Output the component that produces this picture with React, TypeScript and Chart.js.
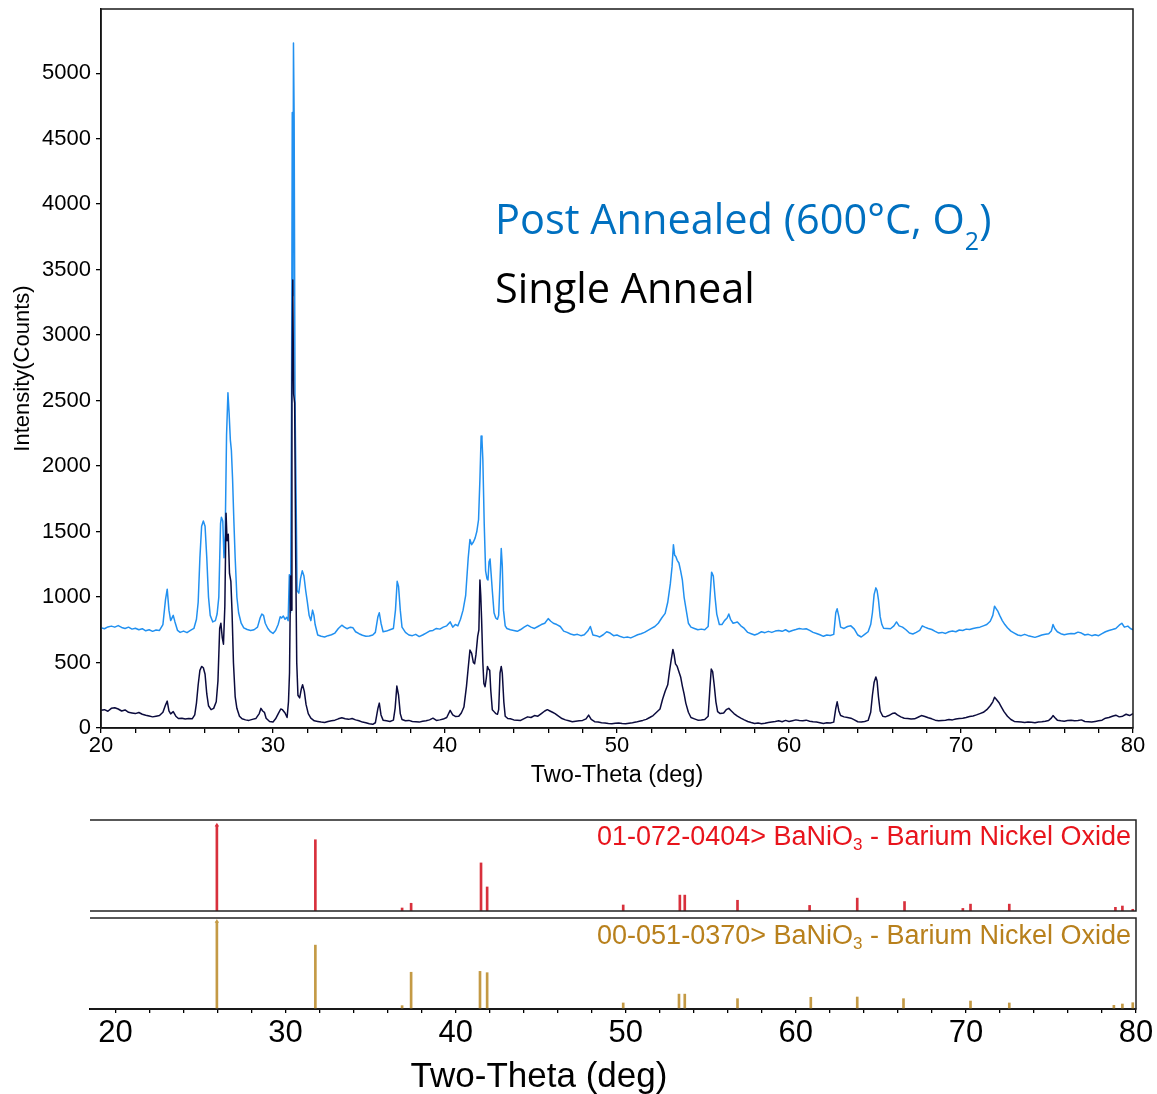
import React, { useEffect, useRef } from 'react';
import { Chart, registerables } from 'chart.js';

Chart.register(...registerables);

// ---------- Main XRD traces (two-theta in deg, intensity in counts) ----------
const POST_X = [
  20.0, 20.2, 20.4, 20.6, 20.8, 21.0, 21.2, 21.4, 21.6, 21.8, 22.0, 22.2, 22.4, 22.6, 22.8, 23.0, 23.2, 23.4, 23.6, 23.75,
  23.85, 23.95, 24.05, 24.2, 24.3, 24.45, 24.6, 24.8, 25.0, 25.2, 25.4, 25.55, 25.65, 25.75, 25.85, 25.95, 26.05, 26.15, 26.25, 26.35,
  26.5, 26.65, 26.75, 26.85, 26.95, 27.0, 27.08, 27.15, 27.22, 27.3, 27.38, 27.45, 27.52, 27.58, 27.65, 27.72, 27.8, 27.9, 28.0, 28.15,
  28.3, 28.5, 28.7, 28.9, 29.1, 29.25, 29.35, 29.45, 29.55, 29.7, 29.85, 30.0, 30.15, 30.3, 30.42, 30.5, 30.6, 30.7, 30.8, 30.88,
  30.95, 31.02, 31.08, 31.12, 31.16, 31.19, 31.23, 31.28, 31.34, 31.4, 31.5, 31.6, 31.7, 31.8, 31.9, 32.0, 32.1, 32.2, 32.3, 32.38,
  32.45, 32.6, 32.8, 33.0, 33.2, 33.4, 33.6, 33.8, 34.0, 34.15, 34.3, 34.5, 34.65, 34.8, 35.0, 35.2, 35.4, 35.6, 35.8, 35.95,
  36.1, 36.18, 36.28, 36.4, 36.6, 36.8, 37.0, 37.12, 37.22, 37.3, 37.4, 37.5, 37.7, 37.9, 38.1, 38.3, 38.5, 38.7, 38.9, 39.1,
  39.3, 39.5, 39.7, 39.9, 40.1, 40.3, 40.45, 40.6, 40.75, 40.9, 41.05, 41.2, 41.35, 41.45, 41.55, 41.65, 41.75, 41.85, 41.95, 42.03,
  42.1, 42.15, 42.2, 42.28, 42.36, 42.44, 42.5, 42.56, 42.62, 42.68, 42.75, 42.85, 42.95, 43.05, 43.12, 43.2, 43.27, 43.33, 43.4, 43.5,
  43.6, 43.8, 44.0, 44.2, 44.4, 44.6, 44.8, 45.0, 45.2, 45.4, 45.6, 45.8, 46.0, 46.15, 46.3, 46.5, 46.7, 46.9, 47.1, 47.3,
  47.5, 47.7, 47.9, 48.1, 48.3, 48.45, 48.6, 48.8, 49.0, 49.2, 49.4, 49.6, 49.8, 50.0, 50.2, 50.4, 50.6, 50.8, 51.0, 51.2,
  51.4, 51.6, 51.8, 52.0, 52.2, 52.4, 52.6, 52.8, 52.95, 53.1, 53.2, 53.28, 53.35, 53.42, 53.5, 53.6, 53.7, 53.8, 53.9, 54.0,
  54.15, 54.3, 54.5, 54.7, 54.9, 55.1, 55.3, 55.4, 55.5, 55.6, 55.7, 55.8, 55.95, 56.1, 56.25, 56.4, 56.5, 56.6, 56.75, 56.9,
  57.0, 57.2, 57.4, 57.6, 57.8, 58.0, 58.2, 58.4, 58.6, 58.8, 59.0, 59.2, 59.4, 59.6, 59.8, 60.0, 60.2, 60.4, 60.6, 60.8,
  61.0, 61.2, 61.4, 61.6, 61.8, 62.0, 62.2, 62.4, 62.6, 62.72, 62.8, 62.9, 63.0, 63.2, 63.4, 63.6, 63.8, 64.0, 64.2, 64.4,
  64.6, 64.75, 64.85, 64.95, 65.05, 65.12, 65.2, 65.3, 65.4, 65.5, 65.7, 65.9, 66.1, 66.25, 66.4, 66.6, 66.8, 67.0, 67.2, 67.4,
  67.6, 67.75, 67.9, 68.1, 68.3, 68.5, 68.7, 68.9, 69.1, 69.3, 69.5, 69.7, 69.9, 70.1, 70.3, 70.5, 70.7, 70.9, 71.1, 71.3,
  71.5, 71.7, 71.85, 71.95, 72.05, 72.15, 72.25, 72.4, 72.55, 72.7, 72.9, 73.1, 73.3, 73.5, 73.7, 73.9, 74.1, 74.3, 74.5, 74.7,
  74.9, 75.1, 75.25, 75.35, 75.45, 75.6, 75.8, 76.0, 76.2, 76.4, 76.6, 76.8, 77.0, 77.2, 77.4, 77.6, 77.8, 78.0, 78.2, 78.4,
  78.6, 78.8, 79.0, 79.2, 79.35, 79.5, 79.7, 79.85, 80.0,
];
const POST_Y = [
  765, 758, 772, 778, 770, 782, 768, 760, 770, 755, 762, 750, 758, 742, 750, 738, 748, 745, 790, 980,
  1060, 900, 820, 860, 810, 745, 730, 740, 728, 745, 760, 830, 960, 1300, 1540, 1580, 1540, 1300, 1000, 860,
  810, 820, 870, 1000, 1560, 1610, 1580, 1300, 1480, 2240, 2560, 2400, 2200, 2120, 1900, 1600, 1300, 1000, 880, 800,
  765, 752, 745, 750, 770, 840, 870, 860, 800, 760, 735, 722, 745, 790, 850, 840, 855, 830, 845, 820,
  1170, 880, 2500, 4700, 3300, 5230, 4640, 2500, 1800, 1050, 1030, 1140, 1200, 1160, 1050, 960, 860, 820, 900, 860,
  790, 710, 700, 695, 705, 712, 725, 760, 785, 770, 758, 770, 765, 735, 720, 708, 700, 702, 710, 730,
  850, 880, 800, 735, 740, 750, 760, 900, 1120, 1080, 900, 770, 730, 710, 705, 715, 698, 710, 725, 740,
  745, 760, 755, 770, 780, 810, 770, 790, 780, 830, 900, 1010, 1300, 1440, 1400, 1420, 1450, 1500, 1590, 1900,
  2230, 2200, 2050, 1560, 1200, 1140, 1130, 1270, 1290, 1180, 1050, 880, 840, 830, 860, 1130, 1370, 1240, 900, 780,
  760, 750, 745, 738, 752, 770, 785, 770, 760, 775, 790, 800, 835, 815, 800, 790, 775, 740, 730, 718,
  710, 715, 705, 712, 740, 775, 710, 705, 695, 712, 735, 725, 705, 710, 698, 690, 695, 688, 700, 712,
  720, 730, 745, 760, 775, 800, 840, 875, 960, 1100, 1230, 1400, 1320, 1310, 1280, 1260, 1200, 1130, 1000, 920,
  800, 770, 760, 750, 755, 750, 775, 980, 1190, 1160, 1000, 870, 790, 790, 820, 840, 870, 830, 800, 805,
  810, 780, 760, 730, 720, 710, 720, 735, 728, 738, 730, 740, 745, 738, 750, 735, 745, 752, 760, 755,
  758, 745, 730, 722, 712, 700, 710, 706, 715, 880, 910, 850, 770, 760, 775, 780, 755, 710, 695, 715,
  735, 790, 880, 1020, 1070, 1050, 980, 850, 790, 762, 760, 758, 780, 810, 780, 770, 750, 725, 718, 730,
  745, 780, 770, 760, 752, 738, 725, 730, 722, 735, 740, 735, 748, 745, 755, 752, 760, 765, 770, 780,
  790, 815, 860, 930, 910, 890, 860, 820, 790, 765, 740, 725, 710, 705, 715, 705, 698, 692, 700, 710,
  715, 720, 740, 790, 760, 735, 720, 712, 718, 722, 720, 732, 725, 710, 715, 705, 712, 705, 720, 735,
  745, 752, 760, 785, 800, 770, 778, 760, 750,
];

const SINGLE_X = [
  20.0, 20.2, 20.4, 20.6, 20.8, 21.0, 21.2, 21.4, 21.6, 21.8, 22.0, 22.2, 22.4, 22.6, 22.8, 23.0, 23.2, 23.4, 23.6, 23.75,
  23.85, 23.95, 24.05, 24.2, 24.35, 24.5, 24.7, 24.9, 25.1, 25.3, 25.45, 25.55, 25.65, 25.75, 25.85, 25.95, 26.05, 26.15, 26.25, 26.4,
  26.55, 26.7, 26.8, 26.9, 26.97, 27.05, 27.12, 27.2, 27.27, 27.33, 27.4, 27.47, 27.55, 27.62, 27.7, 27.8, 27.9, 28.05, 28.2, 28.4,
  28.6, 28.8, 29.0, 29.2, 29.3, 29.4, 29.5, 29.6, 29.8, 30.0, 30.15, 30.3, 30.45, 30.55, 30.7, 30.82, 30.9, 30.96, 31.02, 31.07,
  31.1, 31.15, 31.2, 31.26, 31.32, 31.38, 31.45, 31.55, 31.65, 31.72, 31.82, 31.92, 32.05, 32.2, 32.4, 32.6, 32.8, 33.0, 33.2, 33.4,
  33.6, 33.8, 34.0, 34.2, 34.4, 34.6, 34.8, 35.0, 35.2, 35.4, 35.6, 35.8, 35.95, 36.1, 36.18, 36.28, 36.4, 36.6, 36.8, 37.0,
  37.1, 37.2, 37.3, 37.4, 37.5, 37.7, 37.9, 38.1, 38.3, 38.5, 38.7, 38.9, 39.1, 39.3, 39.5, 39.7, 39.9, 40.1, 40.3, 40.45,
  40.6, 40.8, 40.95, 41.1, 41.25, 41.35, 41.45, 41.55, 41.65, 41.72, 41.8, 41.9, 41.97, 42.03, 42.08, 42.13, 42.2, 42.26, 42.33, 42.4,
  42.47, 42.53, 42.6, 42.66, 42.75, 42.85, 42.95, 43.05, 43.12, 43.2, 43.27, 43.33, 43.42, 43.5, 43.65, 43.8, 44.0, 44.2, 44.4, 44.6,
  44.8, 45.0, 45.2, 45.4, 45.6, 45.8, 45.95, 46.1, 46.25, 46.4, 46.6, 46.8, 47.0, 47.2, 47.4, 47.6, 47.8, 48.0, 48.2, 48.35,
  48.5, 48.7, 48.9, 49.1, 49.3, 49.5, 49.7, 49.9, 50.1, 50.3, 50.5, 50.7, 50.9, 51.1, 51.3, 51.5, 51.7, 51.9, 52.1, 52.3,
  52.5, 52.65, 52.8, 52.95, 53.05, 53.15, 53.25, 53.32, 53.4, 53.5, 53.6, 53.7, 53.8, 53.9, 54.0, 54.15, 54.3, 54.5, 54.7, 54.9,
  55.1, 55.3, 55.4, 55.48, 55.56, 55.65, 55.75, 55.85, 56.0, 56.2, 56.35, 56.5, 56.65, 56.8, 57.0, 57.2, 57.4, 57.6, 57.8, 58.0,
  58.2, 58.4, 58.6, 58.8, 59.0, 59.2, 59.4, 59.6, 59.8, 60.0, 60.2, 60.4, 60.6, 60.8, 61.0, 61.2, 61.4, 61.6, 61.8, 62.0,
  62.2, 62.4, 62.6, 62.72, 62.8, 62.9, 63.0, 63.2, 63.4, 63.6, 63.8, 64.0, 64.2, 64.4, 64.6, 64.75, 64.85, 64.95, 65.05, 65.12,
  65.2, 65.3, 65.45, 65.6, 65.8, 66.0, 66.15, 66.3, 66.5, 66.7, 66.9, 67.1, 67.3, 67.5, 67.7, 67.9, 68.1, 68.3, 68.5, 68.7,
  68.9, 69.1, 69.3, 69.5, 69.7, 69.9, 70.1, 70.3, 70.5, 70.7, 70.9, 71.1, 71.3, 71.5, 71.7, 71.85, 71.95, 72.05, 72.2, 72.35,
  72.5, 72.7, 72.9, 73.1, 73.3, 73.5, 73.7, 73.9, 74.1, 74.3, 74.5, 74.7, 74.9, 75.1, 75.25, 75.35, 75.45, 75.6, 75.8, 76.0,
  76.2, 76.4, 76.6, 76.8, 77.0, 77.2, 77.4, 77.6, 77.8, 78.0, 78.2, 78.4, 78.6, 78.8, 79.0, 79.2, 79.4, 79.6, 79.8, 80.0,
];
const SINGLE_Y = [
  135, 140, 128, 150, 155, 145, 130, 138, 120, 115, 110, 118, 105, 98, 92, 85, 90, 95, 120, 175,
  205, 130, 108, 125, 90, 72, 75, 68, 72, 70, 100, 190, 330, 440, 470, 460, 410, 260, 170, 140,
  150, 200, 360, 760, 800, 690, 640, 930, 1640, 1430, 1480, 1180, 1120, 880, 500, 240, 150, 90, 70, 62,
  58, 66, 72, 110, 150, 130, 120, 75, 50, 46, 70, 108, 145, 140, 115, 80, 200, 420, 1160, 900,
  2550, 3420, 2550, 2480, 1300, 500, 250, 230, 300, 330, 280, 180, 110, 75, 55, 50, 45, 42, 50, 55,
  60, 70, 78, 70, 66, 72, 62, 55, 45, 40, 32, 28, 40, 150, 190, 100, 60, 55, 50, 60,
  150, 320, 250, 110, 65, 55, 58, 50, 48, 45, 52, 55, 62, 75, 58, 62, 68, 80, 135, 100,
  88, 90, 115, 160, 320, 460, 595, 570, 500, 490, 560, 700, 750, 1130, 1010, 820, 500, 340, 315, 380,
  470, 450, 440, 290, 140, 125, 110, 105, 140, 420, 470, 420, 200, 90, 72, 70, 62, 60, 58, 72,
  85, 80, 95, 90, 110, 130, 140, 130, 120, 110, 90, 72, 62, 55, 48, 52, 55, 58, 70, 98,
  65, 48, 45, 40, 38, 35, 33, 36, 38, 34, 32, 36, 40, 45, 52, 58, 66, 80, 95, 120,
  145, 220, 280, 330, 430, 520, 600, 560, 490, 470, 430, 390, 320, 260, 190, 120, 80, 70, 60, 62,
  65, 90, 300, 450, 430, 330, 200, 125, 110, 115, 140, 150, 130, 110, 90, 75, 62, 50, 42, 35,
  38, 32, 36, 42, 46, 50, 55, 48, 58, 50, 56, 62, 58, 55, 60, 52, 48, 45, 40, 35,
  40, 38, 45, 150, 200, 130, 95, 85, 80, 75, 62, 48, 45, 50, 58, 120, 250, 350, 390, 360,
  240, 130, 90, 85, 95, 110, 115, 100, 85, 75, 72, 68, 70, 82, 95, 88, 78, 70, 60, 55,
  58, 60, 65, 62, 68, 72, 75, 80, 88, 92, 100, 110, 120, 140, 170, 200, 235, 220, 195, 160,
  125, 90, 65, 50, 48, 45, 42, 46, 44, 40, 45, 48, 52, 58, 75, 95, 80, 60, 55, 52,
  58, 60, 55, 58, 62, 50, 48, 45, 50, 55, 60, 75, 80, 90, 98, 85, 90, 105, 95, 110,
];

// ---------- Reference patterns (relative intensity) ----------
const REF1_POS = [25.96, 31.75, 36.85, 37.38, 41.49, 41.85, 49.85, 53.18, 53.47, 56.57, 60.81, 63.61, 66.39, 69.82, 70.27, 72.55, 78.79, 79.2, 79.81];
const REF1_INT = [100, 83, 3.5, 9, 56, 28, 7, 18.5, 18.5, 12.5, 6.5, 15, 11, 3, 8, 8, 4.3, 5.8, 2];
const REF2_POS = [25.96, 31.75, 36.85, 37.38, 41.43, 41.85, 49.85, 53.13, 53.47, 56.57, 60.88, 63.61, 66.33, 70.27, 72.55, 78.7, 79.2, 79.81];
const REF2_INT = [100, 73, 3.8, 42, 43, 41.5, 6.9, 17, 17, 11.8, 13.4, 13.7, 11.8, 9.1, 6.9, 4.2, 5.7, 7.2];

// ---------- Axes & text ----------
const X_MIN = 20;
const X_MAX = 80;
const X_STEP = 2;
const X_LABEL_EVERY = 10;
const Y_MAX = 5490;
const Y_TICKS = [0, 500, 1000, 1500, 2000, 2500, 3000, 3500, 4000, 4500, 5000];
const REF_X_MIN = 18.5;
const REF1_YMAX = 106;
const REF2_YMAX = 104;

const X_TITLE = 'Two-Theta (deg)';
const Y_TITLE = 'Intensity(Counts)';
const POST_LABEL = ['Post Annealed (600°C, O', '2', ')'];
const SINGLE_LABEL = 'Single Anneal';
const REF1_LABEL = ['01-072-0404> BaNiO', '3', ' - Barium Nickel Oxide'];
const REF2_LABEL = ['00-051-0370> BaNiO', '3', ' - Barium Nickel Oxide'];

const ARIAL = '"Liberation Sans", Arial, sans-serif';
const CALIBRI = '"Open Sans", Lato, sans-serif';

type Part = { text: string; font: string; dy: number };

function drawRich(ctx: CanvasRenderingContext2D, parts: Part[], x: number, y: number, align: 'left' | 'right' | 'center', color: string) {
  ctx.save();
  ctx.fillStyle = color;
  ctx.textBaseline = 'alphabetic';
  ctx.textAlign = 'left';
  let total = 0;
  parts.forEach((p) => {
    ctx.font = p.font;
    total += ctx.measureText(p.text).width;
  });
  let cx = align === 'right' ? x - total : align === 'center' ? x - total / 2 : x;
  parts.forEach((p) => {
    ctx.font = p.font;
    ctx.fillText(p.text, cx, y + p.dy);
    cx += ctx.measureText(p.text).width;
  });
  ctx.restore();
}

const xTickLabel = (v: any) => {
  const r = Math.round(Number(v));
  return r % X_LABEL_EVERY === 0 ? String(r) : '';
};

export default function App() {
  const mainRef = useRef<HTMLCanvasElement>(null);
  const ref1Ref = useRef<HTMLCanvasElement>(null);
  const ref2Ref = useRef<HTMLCanvasElement>(null);

  useEffect(() => {
    Chart.defaults.font.family = ARIAL;
    Chart.defaults.color = '#000';

    const mainPlugin = {
      id: 'mainDecor',
      afterDraw(chart: any) {
        const { ctx, chartArea } = chart;
        const { left, top, right, bottom } = chartArea;
        ctx.save();
        ctx.strokeStyle = '#1a1a1a';
        ctx.lineWidth = 1.5;
        ctx.strokeRect(left, top, right - left, bottom - top);
        ctx.restore();
        drawRich(
          ctx,
          [
            { text: POST_LABEL[0], font: `41.5px ${CALIBRI}`, dy: 0 },
            { text: POST_LABEL[1], font: `25px ${CALIBRI}`, dy: 16 },
            { text: POST_LABEL[2], font: `41.5px ${CALIBRI}`, dy: 0 },
          ],
          495, 234, 'left', '#0070c0'
        );
        drawRich(ctx, [{ text: SINGLE_LABEL, font: `41.5px ${CALIBRI}`, dy: 0 }], 495, 303, 'left', '#000');
      },
    };

    const main = new Chart(mainRef.current as HTMLCanvasElement, {
      type: 'line',
      data: {
        datasets: [
          {
            label: SINGLE_LABEL,
            data: SINGLE_X.map((x, i) => ({ x, y: SINGLE_Y[i] })),
            borderColor: '#0b0b3d',
            borderWidth: 1.5,
            borderJoinStyle: 'round',
            pointRadius: 0,
            tension: 0,
          },
          {
            label: 'Post Annealed',
            data: POST_X.map((x, i) => ({ x, y: POST_Y[i] })),
            borderColor: '#2190f0',
            borderWidth: 1.5,
            borderJoinStyle: 'round',
            pointRadius: 0,
            tension: 0,
          },
        ],
      },
      options: {
        responsive: false,
        animation: false,
        devicePixelRatio: 1,
        layout: { padding: { left: 0, top: 9, right: 24, bottom: 0 } },
        plugins: { legend: { display: false }, tooltip: { enabled: false } },
        scales: {
          x: {
            type: 'linear',
            min: X_MIN,
            max: X_MAX,
            afterFit: (s: any) => { s.height = 72; },
            ticks: { stepSize: X_STEP, autoSkip: false, maxRotation: 0, includeBounds: false, padding: 0, font: { size: 22 }, color: '#000', callback: xTickLabel },
            grid: { drawOnChartArea: false, drawTicks: true, tickLength: 5, color: '#000', lineWidth: 1.3 },
            border: { display: true, color: '#000', width: 1.5 },
            title: { display: true, text: X_TITLE, font: { size: 23.5 }, color: '#000', padding: { top: 0, bottom: 10 } },
          },
          y: {
            type: 'linear',
            min: 0,
            max: Y_MAX,
            afterFit: (s: any) => { s.width = 101; s.paddingTop = 0; s.paddingBottom = 0; },
            afterBuildTicks: (s: any) => { s.ticks = Y_TICKS.map((v) => ({ value: v })); },
            ticks: { autoSkip: false, padding: 5, font: { size: 22 }, color: '#000', callback: (v: any) => String(v) },
            grid: { drawOnChartArea: false, drawTicks: true, tickLength: 5, color: '#000', lineWidth: 1.3 },
            border: { display: true, color: '#000', width: 1.5 },
            title: { display: true, text: Y_TITLE, font: { size: 22 }, color: '#000', padding: { top: 10, bottom: 0 } },
          },
        },
      } as any,
      plugins: [mainPlugin],
    });

    const makeRef = (
      canvas: HTMLCanvasElement,
      pos: number[],
      ints: number[],
      yMax: number,
      stickColor: string,
      textColor: string,
      label: string[],
      labelY: number,
      withAxis: boolean,
      pad: { top: number; bottom: number }
    ) => {
      const maxI = Math.max(...ints);
      const maxIdx = ints.indexOf(maxI);
      const decor = {
        id: 'refDecor',
        afterDraw(chart: any) {
          const { ctx, chartArea } = chart;
          const { left, top, right, bottom } = chartArea;
          ctx.save();
          ctx.strokeStyle = '#222';
          ctx.lineWidth = 1.5;
          ctx.beginPath();
          ctx.moveTo(left, top);
          ctx.lineTo(right, top);
          ctx.lineTo(right, bottom);
          ctx.lineTo(left, bottom);
          ctx.stroke();
          ctx.restore();
          drawRich(
            ctx,
            [
              { text: label[0], font: `27px ${ARIAL}`, dy: 0 },
              { text: label[1], font: `17px ${ARIAL}`, dy: 5 },
              { text: label[2], font: `27px ${ARIAL}`, dy: 0 },
            ],
            1131, labelY, 'right', textColor
          );
          if (withAxis) {
            drawRich(ctx, [{ text: X_TITLE, font: `35px ${ARIAL}`, dy: 0 }], 539, 175, 'center', '#000');
          }
        },
      };
      return new Chart(canvas, {
        type: 'bar',
        data: {
          datasets: [
            {
              type: 'scatter',
              data: [{ x: pos[maxIdx], y: maxI }],
              pointStyle: 'triangle',
              pointRadius: 2.5,
              backgroundColor: stickColor,
              borderColor: stickColor,
              borderWidth: 0,
            } as any,
            {
              data: pos.map((x, i) => ({ x, y: ints[i] })),
              backgroundColor: stickColor,
              borderWidth: 0,
              barThickness: 2,
            },
          ],
        },
        options: {
          responsive: false,
          animation: false,
          devicePixelRatio: 1,
          layout: { padding: { left: 90, right: 21, top: pad.top, bottom: pad.bottom } },
          plugins: { legend: { display: false }, tooltip: { enabled: false } },
          scales: {
            x: {
              type: 'linear',
              display: withAxis,
              min: REF_X_MIN,
              max: X_MAX,
              offset: false,
              afterFit: (s: any) => { if (withAxis) s.height = 85; },
              ticks: { stepSize: X_STEP, autoSkip: false, maxRotation: 0, includeBounds: false, padding: 2, font: { size: 31 }, color: '#000', callback: xTickLabel },
              grid: { offset: false, drawOnChartArea: false, drawTicks: true, tickLength: 4, color: '#000', lineWidth: 1.3 },
              border: { display: true, color: '#000', width: 2 },
              title: { display: false },
            },
            y: { type: 'linear', display: false, min: 0, max: yMax },
          },
        } as any,
        plugins: [decor],
      });
    };

    const r1 = makeRef(ref1Ref.current as HTMLCanvasElement, REF1_POS, REF1_INT, REF1_YMAX, '#d8303c', '#e8141c', REF1_LABEL, 35, false, { top: 10, bottom: 4 });
    const r2 = makeRef(ref2Ref.current as HTMLCanvasElement, REF2_POS, REF2_INT, REF2_YMAX, '#c49a45', '#b8801c', REF2_LABEL, 32, true, { top: 6, bottom: 0 });

    return () => {
      main.destroy();
      r1.destroy();
      r2.destroy();
    };
  }, []);

  return (
    <div style={{ position: 'absolute', left: 0, top: 0, width: 1157, height: 1094, background: '#fff', overflow: 'hidden' }}>
      <canvas ref={mainRef} width={1157} height={800} style={{ position: 'absolute', left: 0, top: 0 }} />
      <canvas ref={ref1Ref} width={1157} height={105} style={{ position: 'absolute', left: 0, top: 810 }} />
      <canvas ref={ref2Ref} width={1157} height={182} style={{ position: 'absolute', left: 0, top: 912 }} />
    </div>
  );
}
